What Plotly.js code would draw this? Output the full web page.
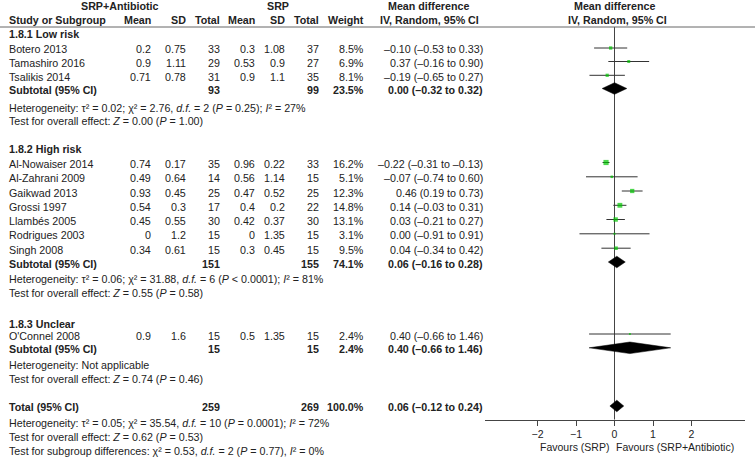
<!DOCTYPE html>
<html>
<head>
<meta charset="utf-8">
<script src="https://cdn.plot.ly/plotly-3.0.1.min.js"></script>
<style>html,body{margin:0;padding:0;background:#fff;}#chart{width:755px;height:458px;}</style>
</head>
<body>
<div id="chart"></div>
<script>
// ---------- DATA ----------
const studies = ['Botero 2013','Tamashiro 2016','Tsalikis 2014','Al-Nowaiser 2014','Al-Zahrani 2009','Gaikwad 2013','Grossi 1997','Llambés 2005','Rodrigues 2003','Singh 2008',"O'Connel 2008"];
const studyGroup = [0,0,0,1,1,1,1,1,1,1,2];
const abMean = [0.2,0.9,0.71,0.74,0.49,0.93,0.54,0.45,0,0.34,0.9];
const abSD = [0.75,1.11,0.78,0.17,0.64,0.45,0.3,0.55,1.2,0.61,1.6];
const abN = [33,29,31,35,14,25,17,30,15,15,15];
const srpMean = [0.3,0.53,0.9,0.96,0.56,0.47,0.4,0.42,0,0.3,0.5];
const srpSD = [1.08,0.9,1.1,0.22,1.14,0.52,0.2,0.37,1.35,0.45,1.35];
const srpN = [37,27,35,33,15,25,22,30,15,15,15];
const weight = [8.5,6.9,8.1,16.2,5.1,12.3,14.8,13.1,3.1,9.5,2.4];
const md = [-0.10,0.37,-0.19,-0.22,-0.07,0.46,0.14,0.03,0.00,0.04,0.40];
const ciLow = [-0.53,-0.16,-0.65,-0.31,-0.74,0.19,-0.03,-0.21,-0.91,-0.34,-0.66];
const ciHigh = [0.33,0.90,0.27,-0.13,0.60,0.73,0.31,0.27,0.91,0.42,1.46];

const groupNames = ['1.8.1 Low risk','1.8.2 High risk','1.8.3 Unclear'];
const subAbN = [93,151,15];
const subSrpN = [99,155,15];
const subWeight = [23.5,74.1,2.4];
const subMD = [0.00,0.06,0.40];
const subLow = [-0.32,-0.16,-0.66];
const subHigh = [0.32,0.28,1.46];
const subHet = [
  'Heterogeneity: τ² = 0.02; χ² = 2.76, <i>d.f.</i> = 2 (<i>P</i> = 0.25); <i>I</i>² = 27%',
  'Heterogeneity: τ² = 0.06; χ² = 31.88, <i>d.f.</i> = 6 (<i>P</i> &lt; 0.0001); <i>I</i>² = 81%',
  'Heterogeneity: Not applicable'
];
const subTest = [
  'Test for overall effect: <i>Z</i> = 0.00 (<i>P</i> = 1.00)',
  'Test for overall effect: <i>Z</i> = 0.55 (<i>P</i> = 0.58)',
  'Test for overall effect: <i>Z</i> = 0.74 (<i>P</i> = 0.46)'
];
const totalAbN = 259, totalSrpN = 269, totalWeight = 100.0;
const totalMD = 0.06, totalLow = -0.12, totalHigh = 0.24;
const totalHet = 'Heterogeneity: τ² = 0.05; χ² = 35.54, <i>d.f.</i> = 10 (<i>P</i> = 0.0001); <i>I</i>² = 72%';
const totalTest = 'Test for overall effect: <i>Z</i> = 0.62 (<i>P</i> = 0.53)';
const subgroupTest = 'Test for subgroup differences: χ² = 0.53, <i>d.f.</i> = 2 (<i>P</i> = 0.77), <i>I</i>² = 0%';
const xTicks = [-2,-1,0,1,2];
const favLeft = 'Favours (SRP)', favRight = 'Favours (SRP+Antibiotic)';

// ---------- LAYOUT (pixel positions) ----------
const W = 755, H = 458;
const studyY = [49.5,63,76.8,164,178.3,192.5,206.8,221,235.3,249.7,335.5];
const groupLabelY = [34,149,324];
const subY = [90,263.5,349.3];
const hetY = [107.5,278.5,364.5];
const testY = [121,292.5,378.5];
const totalY = 407, totalHetY = 422.5, totalTestY = 436.5, subgroupY = 450.5;
const markOff = -1.5;
const LX = 8;
const col = {abMean:152, abSD:187, abN:221, srpMean:256, srpSD:286, srpN:320, weight:365, ci:484};
const axisY = 419.5;
const FONT = 'Liberation Sans, Arial, sans-serif';
const FS = 10.7;
const TXT = '#222';

function px(x){return x/W;}
function py(y){return 1 - y/H;}
const fmt2 = v => (v < 0 ? '–' : '') + Math.abs(v).toFixed(2);
const ciStr = (m,l,h) => fmt2(m) + ' (' + fmt2(l) + ' to ' + fmt2(h) + ')';

const ann = [];
function T(text, x, y, anchor, bold, size){
  ann.push({text: bold ? '<b>'+text+'</b>' : text, x: px(x), y: py(y), xref:'paper', yref:'paper',
    xanchor: anchor, yanchor:'middle', showarrow:false, borderpad:0,
    font:{family:FONT, size:size||FS, color:TXT}});
}

// headers
T('SRP+Antibiotic', 120, 6, 'center', true);
T('SRP', 278, 6, 'center', true);
T('Mean difference', 428, 6, 'center', true);
T('Mean difference', 614, 6, 'center', true);
T('Study or Subgroup', LX, 20, 'left', true);
T('Mean', col.abMean, 20, 'right', true);
T('SD', col.abSD, 20, 'right', true);
T('Total', col.abN, 20, 'right', true);
T('Mean', col.srpMean, 20, 'right', true);
T('SD', col.srpSD, 20, 'right', true);
T('Total', col.srpN, 20, 'right', true);
T('Weight', col.weight, 20, 'right', true);
T('IV, Random, 95% CI', 429, 20, 'center', true);
T('IV, Random, 95% CI', 617, 20, 'center', true);

// study rows
studies.forEach((s,i) => {
  const y = studyY[i];
  T(s, LX, y, 'left');
  T(String(abMean[i]), col.abMean, y, 'right');
  T(String(abSD[i]), col.abSD, y, 'right');
  T(String(abN[i]), col.abN, y, 'right');
  T(String(srpMean[i]), col.srpMean, y, 'right');
  T(String(srpSD[i]), col.srpSD, y, 'right');
  T(String(srpN[i]), col.srpN, y, 'right');
  T(weight[i].toFixed(1)+'%', col.weight, y, 'right');
  T(ciStr(md[i], ciLow[i], ciHigh[i]), col.ci, y, 'right');
});

// group rows
groupNames.forEach((g,k) => {
  T(g, LX, groupLabelY[k], 'left', true);
  T('Subtotal (95% CI)', LX, subY[k], 'left', true);
  T(String(subAbN[k]), col.abN, subY[k], 'right', true);
  T(String(subSrpN[k]), col.srpN, subY[k], 'right', true);
  T(subWeight[k].toFixed(1)+'%', col.weight, subY[k], 'right', true);
  T(ciStr(subMD[k], subLow[k], subHigh[k]), col.ci, subY[k], 'right', true);
  T(subHet[k], LX, hetY[k], 'left');
  T(subTest[k], LX, testY[k], 'left');
});

// total
T('Total (95% CI)', LX, totalY, 'left', true);
T(String(totalAbN), col.abN, totalY, 'right', true);
T(String(totalSrpN), col.srpN, totalY, 'right', true);
T(totalWeight.toFixed(1)+'%', col.weight, totalY, 'right', true);
T(ciStr(totalMD, totalLow, totalHigh), col.ci, totalY, 'right', true);
T(totalHet, LX, totalHetY, 'left');
T(totalTest, LX, totalTestY, 'left');
T(subgroupTest, LX, subgroupY, 'left');
T(favLeft, 610, 446.5, 'right', false, 10.5);
T(favRight, 615, 446.5, 'left', false, 10.5);

// ---------- TRACES ----------
const traces = [];
traces.push({
  type:'scatter', mode:'markers', xaxis:'x', yaxis:'y',
  x: md, y: studyY.map(v => v + markOff),
  marker:{symbol:'square', color:'#00c400', size: weight.map(w => 1.3 + w*0.24), line:{width:0}},
  error_x:{type:'data', symmetric:false,
    array: md.map((m,i) => ciHigh[i]-m), arrayminus: md.map((m,i) => m-ciLow[i]),
    thickness:1, width:0, color:'#333'},
  hoverinfo:'skip'
});
const dh = 5.8;
function diamond(m,l,h,y){
  traces.push({type:'scatter', mode:'lines', xaxis:'x', yaxis:'y',
    x:[l, m, h, m, l], y:[y, y-dh, y, y+dh, y],
    fill:'toself', fillcolor:'#000', line:{color:'#000', width:0.5}, hoverinfo:'skip'});
}
subMD.forEach((m,k) => diamond(m, subLow[k], subHigh[k], subY[k] + markOff));
diamond(totalMD, totalLow, totalHigh, totalY + markOff + 0.5);

const layout = {
  width: W, height: H,
  margin:{l:0, r:0, t:0, b:0, pad:0},
  paper_bgcolor:'#fff', plot_bgcolor:'rgba(0,0,0,0)',
  showlegend:false,
  font:{family:FONT, size:FS, color:TXT},
  xaxis:{domain:[485/W, 745/W], range:[-3.364, 3.390], anchor:'free', position:(H-axisY)/H,
    showline:true, linecolor:'#444', linewidth:1, ticks:'outside', ticklen:5, tickcolor:'#444', tickwidth:1,
    tickvals:xTicks, ticktext: xTicks.map(v => v < 0 ? '−'+Math.abs(v) : String(v)),
    showgrid:false, zeroline:false, fixedrange:true, tickfont:{family:FONT, size:10.5, color:TXT}},
  yaxis:{domain:[0,1], range:[H, 0], visible:false, fixedrange:true},
  shapes:[
    {type:'line', xref:'paper', yref:'y', x0:0, x1:1, y0:27, y1:27, line:{color:'#666', width:1}},
    {type:'line', xref:'x', yref:'y', x0:0, x1:0, y0:27, y1:axisY, line:{color:'#444', width:1}, layer:'below'}
  ],
  annotations: ann
};
Plotly.newPlot('chart', traces, layout, {displayModeBar:false, staticPlot:true});
</script>
</body>
</html>
